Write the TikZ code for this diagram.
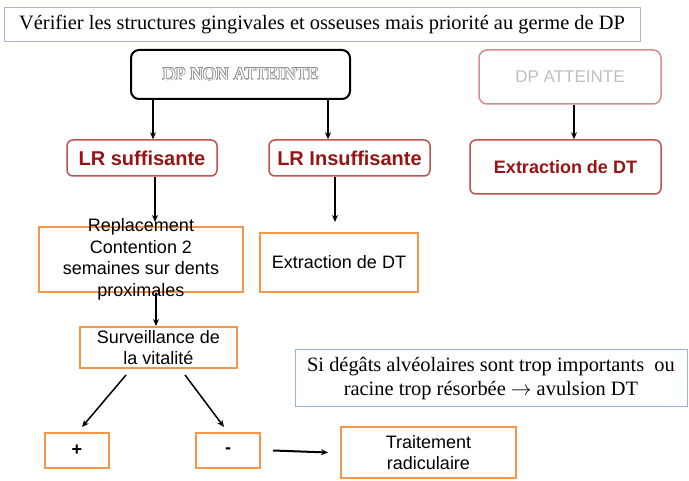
\documentclass[tikz,border=0pt]{standalone}
\usepackage{fontspec}
\setmainfont{Liberation Serif}
\newfontfamily\sansf{Liberation Sans}
\usepackage{contour}
\usetikzlibrary{arrows.meta}
\definecolor{lrred}{RGB}{192,80,77}
\definecolor{lrtext}{RGB}{150,20,20}
\definecolor{orangebox}{RGB}{247,150,70}
\definecolor{titlebox}{RGB}{185,175,220}
\definecolor{notebox}{RGB}{149,179,215}
\definecolor{attbox}{RGB}{215,140,140}
\begin{document}
\begin{tikzpicture}[x=1pt,y=-1pt,
    redbox/.style={draw=lrred,line width=1.5pt,rounded corners=6pt,inner sep=0pt,
      font=\sansf\bfseries\fontsize{20}{24}\selectfont,text=lrtext},
    orbox/.style={draw=orangebox,line width=2pt,inner sep=0pt,align=center,
      font=\sansf\fontsize{18}{21}\selectfont},
    flowarrow/.style={line width=1.5pt,-{Stealth[length=7pt,width=6pt]}}]
\useasboundingbox (0,0) rectangle (689,481);

% Drawing title box
\node [draw=titlebox,line width=1pt,minimum width=636pt,minimum height=34pt,inner sep=0pt,
  font=\fontsize{20.4}{24}\selectfont] (title) at (322,25)
  {Vérifier les structures gingivales et osseuses mais priorité au germe de DP};

% Drawing top boxes
\node [draw=black,line width=2pt,rounded corners=8pt,minimum width=219pt,minimum height=49pt,inner sep=0pt,
  font=\fontsize{18}{22}\selectfont] (dpnon) at (240.5,74.5)
  {\contourlength{0.6pt}\textcolor{white}{\contour{gray!85}{DP NON ATTEINTE}}};
\node [draw=attbox,line width=1.5pt,rounded corners=8pt,minimum width=182pt,minimum height=54pt,inner sep=0pt,
  font=\sansf\fontsize{17}{20}\selectfont,text=gray!50] (dpatt) at (570,77) {DP ATTEINTE};

% Drawing red boxes
\node [redbox,minimum width=150pt,minimum height=36pt] (lrsuf) at (142,158) {LR suffisante};
\node [redbox,minimum width=161pt,minimum height=36pt] (lrins) at (349.5,158) {LR Insuffisante};
\node [redbox,minimum width=191pt,minimum height=54pt,font=\sansf\bfseries\fontsize{18}{22}\selectfont] (extred) at (565.5,167) {Extraction de DT};

% Drawing orange boxes
\node [orbox,minimum width=204pt,minimum height=65pt,
  label={[font=\sansf\fontsize{18}{21.5}\selectfont,align=center]center:Replacement\\Contention 2\\semaines sur dents\\proximales}] (repl) at (141,259.5) {};
\node [orbox,minimum width=158pt,minimum height=59pt] (extor) at (339,262.5) {Extraction de DT};
\node [orbox,minimum width=157pt,minimum height=41pt] (surv) at (158.5,347.5) {Surveillance de\\la vitalité};
\node [orbox,minimum width=64pt,minimum height=35pt,font=\sansf\bfseries\fontsize{18}{20}\selectfont] (plus) at (77,450.5) {+};
\node [orbox,minimum width=64pt,minimum height=35pt,font=\sansf\bfseries\fontsize{18}{20}\selectfont] (minus) at (228,450.5) {-};
\node [orbox,minimum width=175pt,minimum height=51pt] (trait) at (428.5,452.5) {Traitement\\radiculaire};

% Drawing note box
\node [draw=notebox,line width=1pt,minimum width=392pt,minimum height=57pt,inner sep=0pt,align=center,
  font=\fontsize{20.4}{24}\selectfont] (note) at (491,378.5)
  {Si dégâts alvéolaires sont trop importants\ \ ou\\racine trop résorbée $\rightarrow$ avulsion DT};

% Drawing arrows
\draw [flowarrow] (dpnon.south -| 153,0) -- (lrsuf.north -| 153,0);
\draw [flowarrow] (dpnon.south -| 328,0) -- (lrins.north -| 328,0);
\draw [flowarrow] (dpatt.south -| 574,0) -- (extred.north -| 574,0);
\draw [flowarrow] (lrsuf.south -| 155,0) -- (155,222);
\draw [flowarrow] (lrins.south -| 335,0) -- (335,222);
\draw [flowarrow] (repl.south -| 156,0) -- (surv.north -| 156,0);
\draw [flowarrow] (126,375) -- (82,427);
\draw [flowarrow] (185,375) -- (224,427);
\draw [flowarrow,line width=2pt] (minus.east) ++(12,0) -- ([xshift=-12pt]trait.west);
\end{tikzpicture}
\end{document}
